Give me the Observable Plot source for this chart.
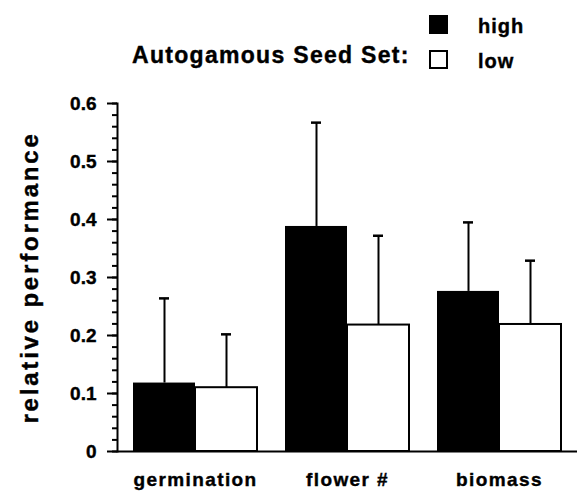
<!DOCTYPE html>
<html>
<head>
<meta charset="utf-8">
<script src="https://cdn.jsdelivr.net/npm/d3@7"></script>
<script src="https://cdn.jsdelivr.net/npm/@observablehq/plot@0.6"></script>
<style>
  body { margin: 0; background: #fff; }
  #chart { position: relative; width: 577px; height: 493px; background: #fff;
           font-family: "Liberation Sans", Arial, Helvetica, sans-serif; font-weight: bold; color: #000; }
  #header { position: relative; width: 577px; height: 90px; -webkit-text-stroke: 0.4px #000; }
  .title { position: absolute; left: 132px; top: 44px; font-size: 23px; line-height: 22px; letter-spacing: 1.3px; white-space: nowrap; }
  .sw { position: absolute; box-sizing: border-box; width: 19px; height: 19px; }
  .sw.high { left: 429px; top: 15px; background: #000; }
  .sw.low { left: 429px; top: 50px; background: #fff; border: 2px solid #000; }
  .lg { position: absolute; left: 478px; font-size: 20px; line-height: 20px; letter-spacing: 1px; white-space: nowrap; }
  svg text { stroke: #000; stroke-width: 0.4px; }
  g[aria-label="x-axis tick label"] { letter-spacing: 1.4px; }
  g[aria-label="y-axis label"] { font-size: 24px; letter-spacing: 2.8px; }
</style>
</head>
<body>
<div id="chart">
  <div id="header"></div>
</div>
<script>
// ---- data ----
const categories = ["germination", "flower #", "biomass"];
const seriesNames = ["high", "low"];
const highMean  = [0.118, 0.388, 0.276];
const lowMean   = [0.110, 0.218, 0.219];
const highUpper = [0.264, 0.567, 0.395];   // top of error bar
const lowUpper  = [0.202, 0.372, 0.329];
const majorTicks = [0, 0.1, 0.2, 0.3, 0.4, 0.5, 0.6];
const yTickLabels = ["0", "0.1", "0.2", "0.3", "0.4", "0.5", "0.6"];
const titleText = "Autogamous Seed Set:";
const yLabel = "relative performance";

const minorTicks = d3.range(0, 31).map(i => i / 50);

const rows = categories.map((c, i) => ({
  cat: c, high: highMean[i], low: lowMean[i], highUp: highUpper[i], lowUp: lowUpper[i]
}));

// header: title + legend
const header = document.getElementById("header");
header.innerHTML =
  `<div class="title">${titleText}</div>` +
  `<div class="sw high"></div><div class="lg" style="top:16px">${seriesNames[0]}</div>` +
  `<div class="sw low"></div><div class="lg" style="top:51px">${seriesNames[1]}</div>`;

const plot = Plot.plot({
  width: 577,
  height: 403,
  marginTop: 13,
  marginBottom: 42,
  marginLeft: 117,
  marginRight: 0,
  style: { fontFamily: "'Liberation Sans', Arial, Helvetica, sans-serif", fontWeight: "bold", fontSize: "19px", color: "black", background: "white", overflow: "visible" },
  x: { domain: categories, paddingInner: 0.187, paddingOuter: 0.1 },
  y: { domain: [0, 0.6] },
  marks: [
    Plot.ruleX(rows, { x: "cat", y1: "high", y2: "highUp", dx: -31, strokeWidth: 2 }),
    Plot.ruleX(rows, { x: "cat", y1: "low", y2: "lowUp", dx: 31, strokeWidth: 2 }),
    Plot.tickY(rows, { x: "cat", y: "highUp", insetLeft: 26, insetRight: 88, strokeWidth: 2.5 }),
    Plot.tickY(rows, { x: "cat", y: "lowUp", insetLeft: 88, insetRight: 26, strokeWidth: 2.5 }),
    Plot.barY(rows, { x: "cat", y: "high", fill: "black", insetRight: 62 }),
    Plot.barY(rows, { x: "cat", y: "low", fill: "white", stroke: "black", strokeWidth: 2, insetLeft: 62 }),
    Plot.axisY({ ticks: minorTicks, tickSize: 5, strokeWidth: 2, tickFormat: () => "", label: null }),
    Plot.axisY({ ticks: majorTicks, tickSize: 10, tickPadding: 11, strokeWidth: 2,
                 tickFormat: d => yTickLabels[majorTicks.indexOf(d)],
                 label: yLabel, labelAnchor: "center", labelOffset: 97, labelArrow: "none" }),
    Plot.axisX({ tickSize: 0, tickPadding: 21, label: null }),
    Plot.frame({ anchor: "left", strokeWidth: 2 }),
    Plot.ruleY([0], { strokeWidth: 2 })
  ]
});
document.getElementById("chart").appendChild(plot);
</script>
</body>
</html>
